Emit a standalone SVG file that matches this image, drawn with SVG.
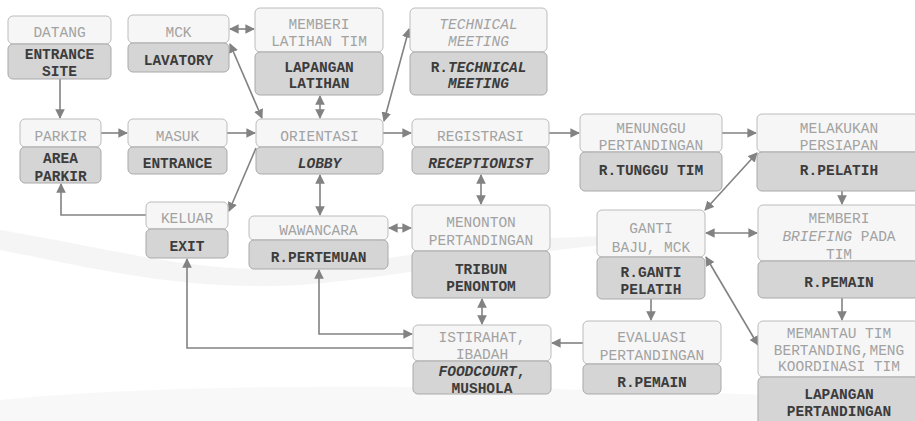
<svg xmlns="http://www.w3.org/2000/svg" width="915" height="421" viewBox="0 0 915 421">
  <style>
    .top { fill: #f6f6f6; stroke: #bcbcbc; stroke-width: 1; }
    .bot { fill: #d5d5d5; stroke: #a9a9a9; stroke-width: 1; }
    .lt { font-family: "Liberation Mono", "Courier New", monospace; font-size: 14.5px; fill: #a2a2a2; text-anchor: middle; }
    .lb { font-family: "Liberation Mono", "Courier New", monospace; font-size: 14.5px; font-weight: bold; fill: #3c3c3c; text-anchor: middle; }
    .it { font-style: italic; }
    .c { fill: none; stroke: #828282; stroke-width: 1.6; }
    .one { marker-end: url(#ah); }
    .two { marker-start: url(#ah); marker-end: url(#ah); }
    .wm { fill: #f1f1f1; }
  </style>
  <defs>
    <marker id="ah" viewBox="0 0 10 10" refX="9" refY="5" markerWidth="6" markerHeight="6" orient="auto-start-reverse" markerUnits="strokeWidth">
      <path d="M0,0 L10,5 L0,10 z" fill="#828282"/>
    </marker>
  </defs>

  <rect width="915" height="421" fill="#ffffff"/>
  <!-- faint background swooshes -->
  <path class="wm" d="M0,230 C120,250 200,275 300,268 C420,260 520,225 700,240 C560,240 430,275 300,285 C180,292 80,265 0,250 z" opacity="0.7"/>
  <path class="wm" d="M0,400 C200,380 500,385 915,400 L915,421 L0,421 z" opacity="0.5"/>

  <!-- connectors -->
  <g id="connectors">
    <path class="c one" d="M60,79 V118"/>
    <path class="c two" d="M230,29 H254"/>
    <path class="c two" d="M262,118 L230,44"/>
    <path class="c two" d="M320,118 V96"/>
    <path class="c two" d="M384,121 L409,29"/>
    <path class="c one" d="M101,133 H127"/>
    <path class="c one" d="M227,133 H255"/>
    <path class="c one" d="M383,133 H411"/>
    <path class="c one" d="M549,133 H579"/>
    <path class="c one" d="M722,133 H756"/>
    <path class="c one" d="M842,191 V204"/>
    <path class="c two" d="M757,153 L705,210"/>
    <path class="c two" d="M706,233 H757"/>
    <path class="c two" d="M706,257 L758,345"/>
    <path class="c one" d="M842,298 V320"/>
    <path class="c one" d="M651,299 V320"/>
    <path class="c one" d="M583,343 H552"/>
    <path class="c two" d="M482,299 V324"/>
    <path class="c two" d="M481,175 V204"/>
    <path class="c two" d="M389,228 H411"/>
    <path class="c two" d="M320,175 V215"/>
    <path class="c two" d="M412,334 H319 V270"/>
    <path class="c one" d="M413,348 H187 V259"/>
    <path class="c one" d="M256,148 L229,211"/>
    <path class="c one" d="M146,215 H61 V184"/>
  </g>

  <g id="datang">
    <rect class="top" x="8" y="16" width="103" height="28" rx="5"/>
    <rect class="bot" x="8" y="44" width="103" height="35" rx="5"/>
    <text class="lt" x="59.5" y="36.5">DATANG</text>
    <text class="lb" x="59.5" y="58.5">ENTRANCE</text>
    <text class="lb" x="59.5" y="76">SITE</text>
  </g>

  <g id="mck">
    <rect class="top" x="128" y="15" width="101" height="28" rx="5"/>
    <rect class="bot" x="128" y="43" width="101" height="29" rx="5"/>
    <text class="lt" x="178.5" y="36.5">MCK</text>
    <text class="lb" x="178.5" y="64.5">LAVATORY</text>
  </g>

  <g id="latihan">
    <rect class="top" x="255" y="8" width="128" height="44" rx="5"/>
    <rect class="bot" x="255" y="52" width="128" height="43" rx="5"/>
    <text class="lt" x="319" y="28.5">MEMBERI</text>
    <text class="lt" x="319" y="45.5">LATIHAN TIM</text>
    <text class="lb" x="319" y="71.5">LAPANGAN</text>
    <text class="lb" x="319" y="88">LATIHAN</text>
  </g>

  <g id="technical">
    <rect class="top" x="410" y="8" width="137" height="44" rx="5"/>
    <rect class="bot" x="410" y="52" width="137" height="43" rx="5"/>
    <text class="lt it" x="478.5" y="28.5">TECHNICAL</text>
    <text class="lt it" x="478.5" y="45.5">MEETING</text>
    <text class="lb" x="478.5" y="71.5">R.<tspan class="it">TECHNICAL</tspan></text>
    <text class="lb it" x="478.5" y="88">MEETING</text>
  </g>

  <g id="parkir">
    <rect class="top" x="20" y="119" width="81" height="28" rx="5"/>
    <rect class="bot" x="20" y="147" width="81" height="36" rx="5"/>
    <text class="lt" x="60.5" y="140.5">PARKIR</text>
    <text class="lb" x="60.5" y="162.5">AREA</text>
    <text class="lb" x="60.5" y="180.5">PARKIR</text>
  </g>

  <g id="masuk">
    <rect class="top" x="128" y="119" width="99" height="28" rx="5"/>
    <rect class="bot" x="128" y="147" width="99" height="27" rx="5"/>
    <text class="lt" x="177.5" y="140.5">MASUK</text>
    <text class="lb" x="177.5" y="167.5">ENTRANCE</text>
  </g>

  <g id="orientasi">
    <rect class="top" x="256" y="119" width="127" height="28" rx="5"/>
    <rect class="bot" x="256" y="147" width="127" height="27" rx="5"/>
    <text class="lt" x="319.5" y="140.5">ORIENTASI</text>
    <text class="lb it" x="319.5" y="167.5">LOBBY</text>
  </g>

  <g id="registrasi">
    <rect class="top" x="412" y="119" width="137" height="28" rx="5"/>
    <rect class="bot" x="412" y="147" width="137" height="27" rx="5"/>
    <text class="lt" x="480.5" y="140.5">REGISTRASI</text>
    <text class="lb it" x="480.5" y="167.5">RECEPTIONIST</text>
  </g>

  <g id="menunggu">
    <rect class="top" x="580" y="114" width="142" height="38" rx="5"/>
    <rect class="bot" x="580" y="152" width="142" height="39" rx="5"/>
    <text class="lt" x="651" y="132.5">MENUNGGU</text>
    <text class="lt" x="651" y="149.5">PERTANDINGAN</text>
    <text class="lb" x="651" y="174.5">R.TUNGGU TIM</text>
  </g>

  <g id="persiapan">
    <rect class="top" x="757" y="114" width="162" height="38" rx="5"/>
    <rect class="bot" x="757" y="152" width="162" height="39" rx="5"/>
    <text class="lt" x="839" y="132.5">MELAKUKAN</text>
    <text class="lt" x="839" y="149.5">PERSIAPAN</text>
    <text class="lb" x="839" y="174.5">R.PELATIH</text>
  </g>

  <g id="keluar">
    <rect class="top" x="146" y="202" width="82" height="27" rx="5"/>
    <rect class="bot" x="146" y="229" width="82" height="29" rx="5"/>
    <text class="lt" x="187" y="222.5">KELUAR</text>
    <text class="lb" x="187" y="250.5">EXIT</text>
  </g>

  <g id="wawancara">
    <rect class="top" x="249" y="216" width="139" height="24" rx="5"/>
    <rect class="bot" x="249" y="240" width="139" height="29" rx="5"/>
    <text class="lt" x="318.5" y="234.5">WAWANCARA</text>
    <text class="lb" x="318.5" y="261.5">R.PERTEMUAN</text>
  </g>

  <g id="menonton">
    <rect class="top" x="412" y="205" width="138" height="46" rx="5"/>
    <rect class="bot" x="412" y="251" width="138" height="47" rx="5"/>
    <text class="lt" x="481" y="226.5">MENONTON</text>
    <text class="lt" x="481" y="244.5">PERTANDINGAN</text>
    <text class="lb" x="481" y="273.5">TRIBUN</text>
    <text class="lb" x="481" y="290.5">PENONTOM</text>
  </g>

  <g id="ganti">
    <rect class="top" x="597" y="210" width="108" height="47" rx="5"/>
    <rect class="bot" x="597" y="257" width="108" height="42" rx="5"/>
    <text class="lt" x="651" y="232.5">GANTI</text>
    <text class="lt" x="651" y="251.5">BAJU, MCK</text>
    <text class="lb" x="651" y="276.5">R.GANTI</text>
    <text class="lb" x="651" y="293.5">PELATIH</text>
  </g>

  <g id="briefing">
    <rect class="top" x="758" y="205" width="161" height="56" rx="5"/>
    <rect class="bot" x="758" y="261" width="161" height="37" rx="5"/>
    <text class="lt" x="839" y="222.5">MEMBERI</text>
    <text class="lt" x="839" y="240.5"><tspan class="it">BRIEFING</tspan> PADA</text>
    <text class="lt" x="839" y="258.5">TIM</text>
    <text class="lb" x="839" y="286.5">R.PEMAIN</text>
  </g>

  <g id="istirahat">
    <rect class="top" x="413" y="325" width="138" height="36" rx="5"/>
    <rect class="bot" x="413" y="361" width="138" height="33" rx="5"/>
    <text class="lt" x="482" y="341.5">ISTIRAHAT,</text>
    <text class="lt" x="482" y="358.5">IBADAH</text>
    <text class="lb" x="482" y="375.5"><tspan class="it">FOODCOURT</tspan>,</text>
    <text class="lb" x="482" y="392.5">MUSHOLA</text>
  </g>

  <g id="evaluasi">
    <rect class="top" x="583" y="321" width="138" height="43" rx="5"/>
    <rect class="bot" x="583" y="364" width="138" height="30" rx="5"/>
    <text class="lt" x="652" y="341.5">EVALUASI</text>
    <text class="lt" x="652" y="359.5">PERTANDINGAN</text>
    <text class="lb" x="652" y="386.5">R.PEMAIN</text>
  </g>

  <g id="memantau">
    <rect class="top" x="758" y="321" width="161" height="56" rx="5"/>
    <rect class="bot" x="758" y="377" width="161" height="50" rx="5"/>
    <text class="lt" x="839" y="337.5">MEMANTAU TIM</text>
    <text class="lt" x="839" y="354.5">BERTANDING,MENG</text>
    <text class="lt" x="839" y="370.5">KOORDINASI TIM</text>
    <text class="lb" x="839" y="398.5">LAPANGAN</text>
    <text class="lb" x="839" y="416">PERTANDINGAN</text>
  </g>
</svg>
